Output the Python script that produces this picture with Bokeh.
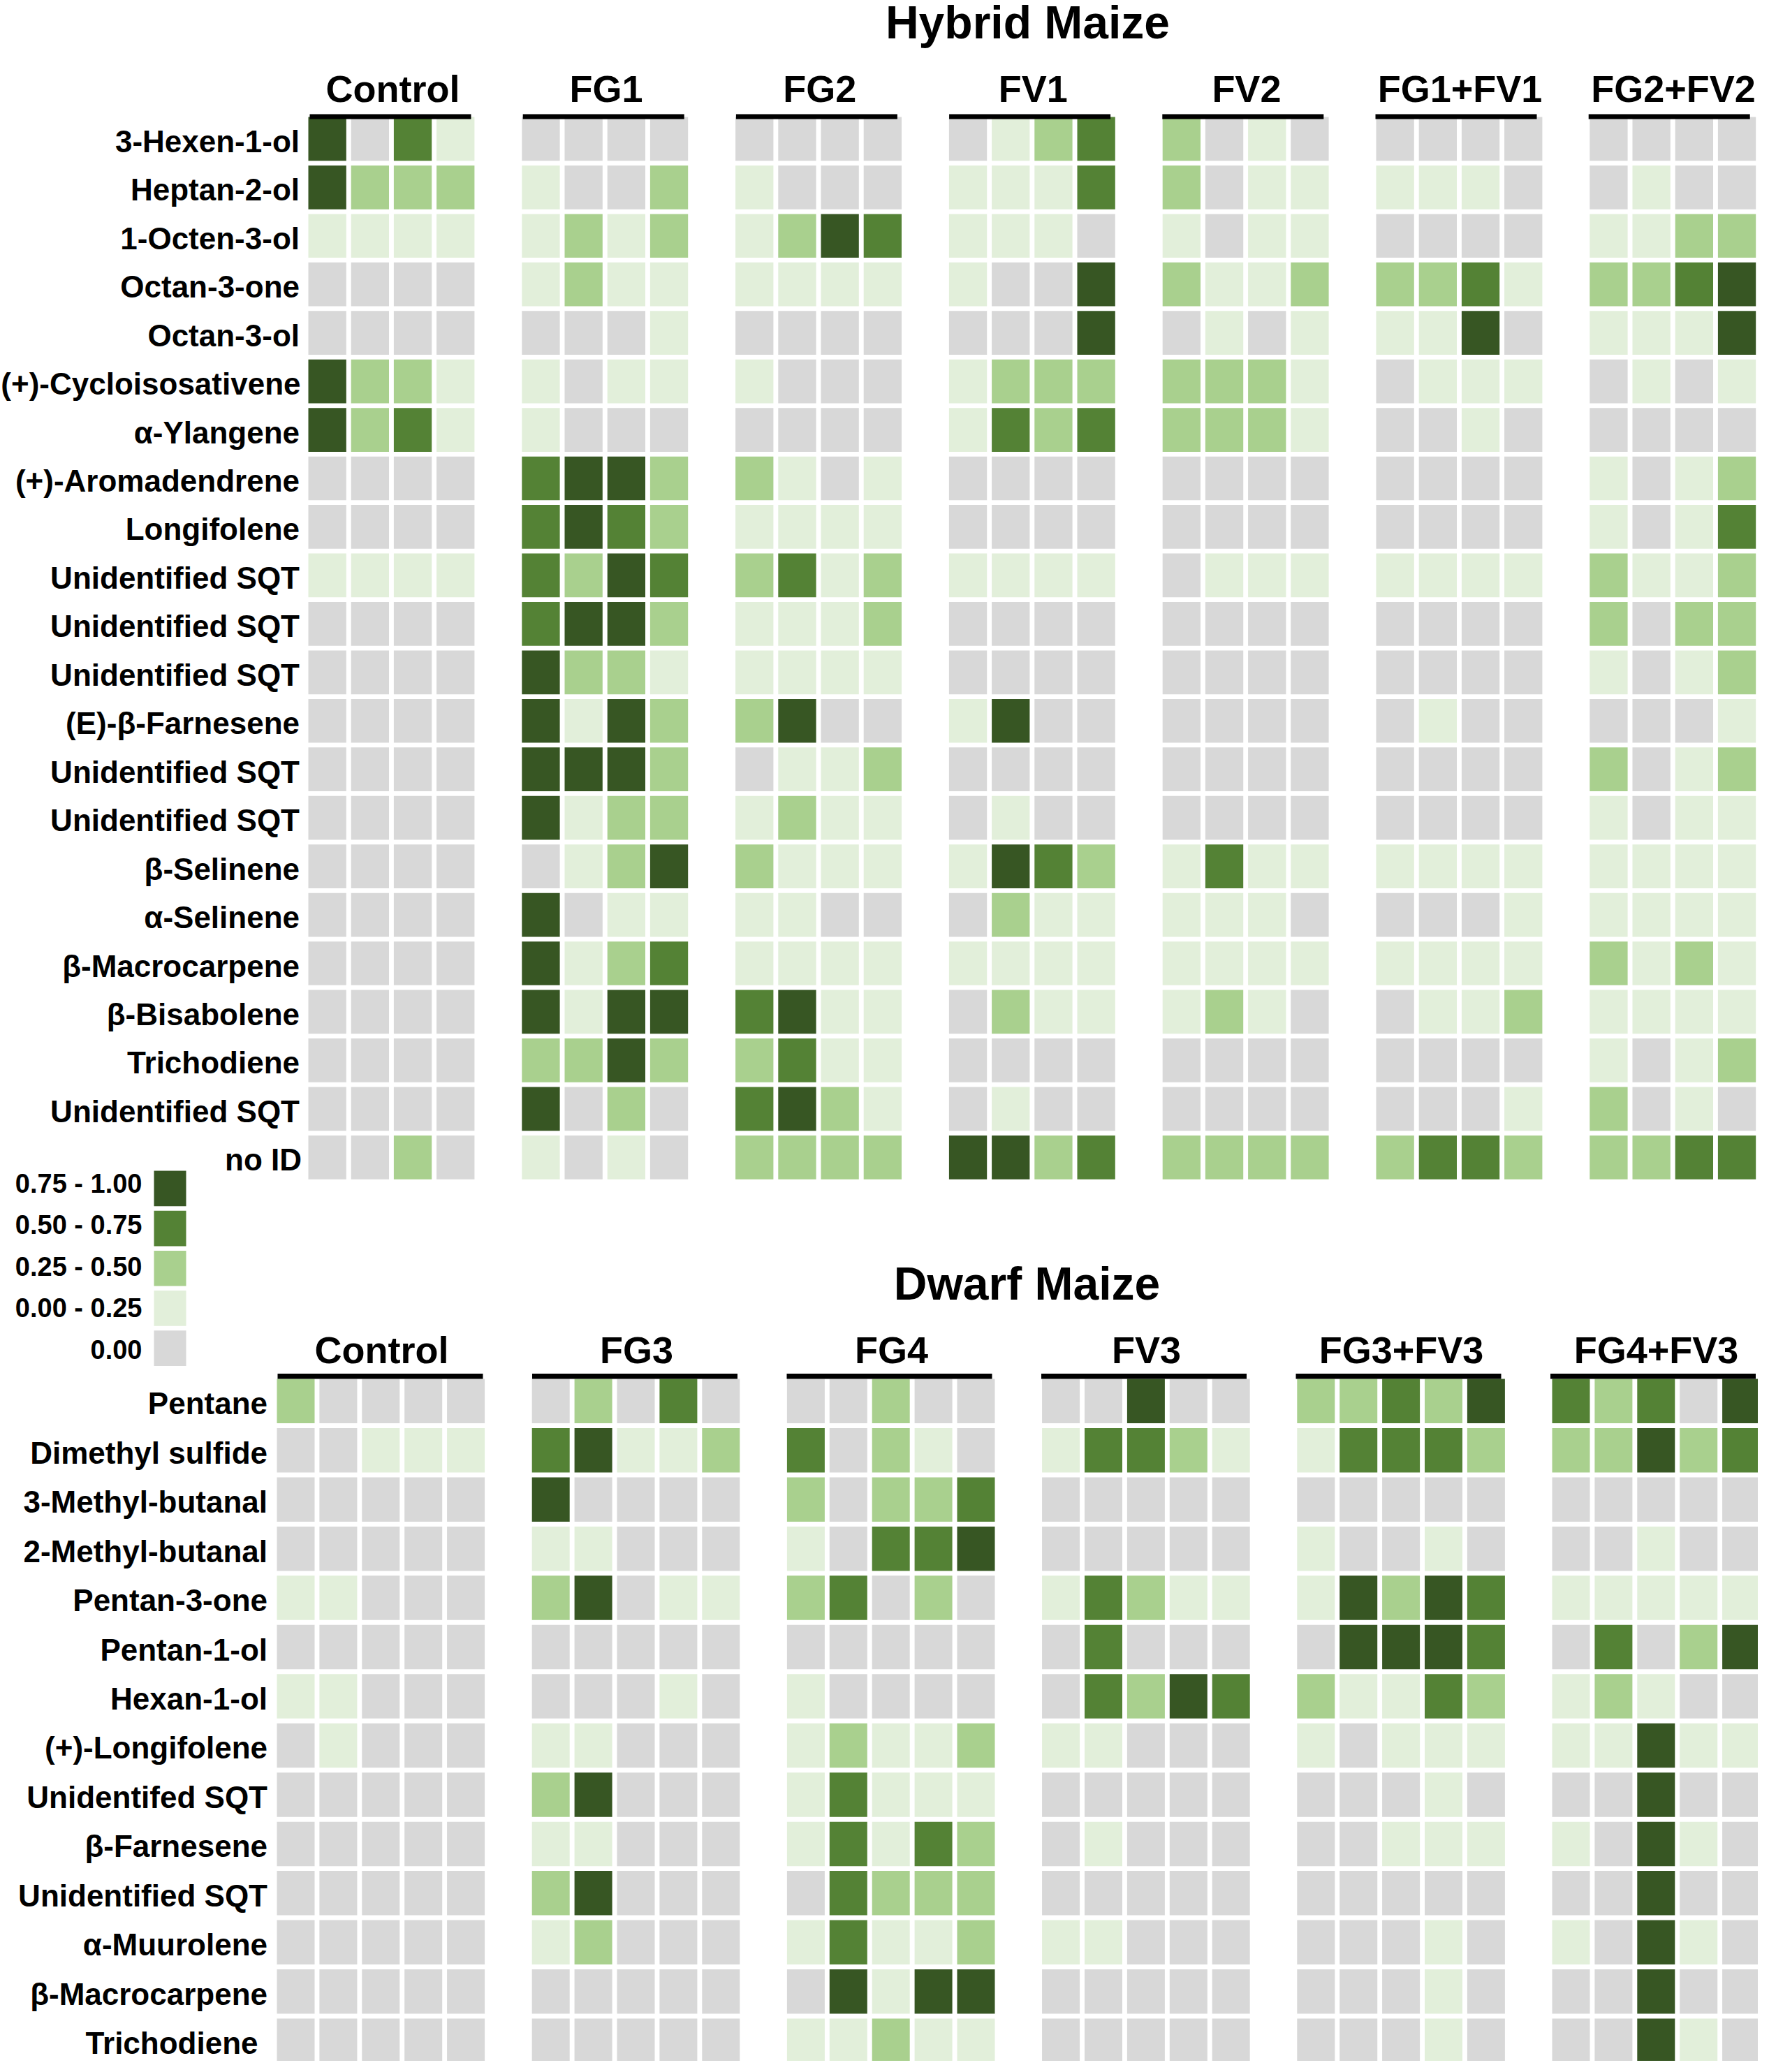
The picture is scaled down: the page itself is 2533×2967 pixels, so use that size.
from bokeh.core.properties import value
from bokeh.embed import file_html
from bokeh.models import ColumnDataSource, Range1d
from bokeh.plotting import figure
from bokeh.resources import INLINE

# Class of each cell: 0 = 0.00, 1 = 0.00-0.25, 2 = 0.25-0.50, 3 = 0.50-0.75, 4 = 0.75-1.00
hybrid_rows = [
    "3-Hexen-1-ol", "Heptan-2-ol", "1-Octen-3-ol", "Octan-3-one", "Octan-3-ol",
    "(+)-Cycloisosativene", "α-Ylangene", "(+)-Aromadendrene", "Longifolene",
    "Unidentified SQT", "Unidentified SQT", "Unidentified SQT", "(E)-β-Farnesene",
    "Unidentified SQT", "Unidentified SQT", "β-Selinene", "α-Selinene",
    "β-Macrocarpene", "β-Bisabolene", "Trichodiene", "Unidentified SQT", "no ID",
]
hybrid_groups = ["Control", "FG1", "FG2", "FV1", "FV2", "FG1+FV1", "FG2+FV2"]

hybrid_control = ["4031", "4222", "1111", "0000", "0000", "4221", "4231", "0000", "0000", "1111", "0000",
                  "0000", "0000", "0000", "0000", "0000", "0000", "0000", "0000", "0000", "0000", "0020"]
hybrid_fg1 = ["0000", "1002", "1212", "1211", "0001", "1011", "1000", "3442", "3432", "3243", "3442",
              "4221", "4142", "4442", "4122", "0124", "4011", "4123", "4144", "2242", "4020", "1010"]
hybrid_fg2 = ["0000", "1000", "1243", "1111", "0000", "1000", "0000", "2101", "1111", "2312", "1112",
              "1111", "2400", "0112", "1211", "2111", "1100", "1111", "3411", "2311", "3421", "2222"]
hybrid_fv1 = ["0123", "1113", "1110", "1004", "0004", "1222", "1323", "0000", "0000", "1111", "0000",
              "0000", "1400", "0000", "0100", "1432", "0211", "1111", "0211", "0000", "0100", "4423"]
hybrid_fv2 = ["2010", "2011", "1011", "2112", "0101", "2221", "2221", "0000", "0000", "0111", "0000",
              "0000", "0000", "0000", "0000", "1311", "1110", "1111", "1210", "0000", "0000", "2222"]
hybrid_fg1_fv1 = ["0000", "1110", "0000", "2231", "1140", "0111", "0010", "0000", "0000", "1111", "0000",
                  "0000", "0100", "0000", "0000", "1111", "0001", "1111", "0112", "0000", "0001", "2332"]
hybrid_fg2_fv2 = ["0000", "0100", "1122", "2234", "1114", "0101", "0000", "1012", "1013", "2112", "2022",
                  "1012", "0001", "2012", "1011", "1111", "1111", "2121", "1111", "1012", "2010", "2233"]
hybrid_values = [hybrid_control, hybrid_fg1, hybrid_fg2, hybrid_fv1, hybrid_fv2, hybrid_fg1_fv1, hybrid_fg2_fv2]

dwarf_rows = [
    "Pentane", "Dimethyl sulfide", "3-Methyl-butanal", "2-Methyl-butanal", "Pentan-3-one",
    "Pentan-1-ol", "Hexan-1-ol", "(+)-Longifolene", "Unidentifed SQT", "β-Farnesene",
    "Unidentified SQT", "α-Muurolene", "β-Macrocarpene", "Trichodiene",
]
dwarf_groups = ["Control", "FG3", "FG4", "FV3", "FG3+FV3", "FG4+FV3"]

dwarf_control = ["20000", "00111", "00000", "00000", "11000", "00000", "11000",
                 "01000", "00000", "00000", "00000", "00000", "00000", "00000"]
dwarf_fg3 = ["02030", "34112", "40000", "11000", "24011", "00000", "00010",
             "11000", "24000", "11000", "24000", "12000", "00000", "00000"]
dwarf_fg4 = ["00200", "30210", "20223", "10334", "23020", "00000", "10000",
             "12112", "13111", "13132", "03222", "13112", "04144", "11211"]
dwarf_fv3 = ["00400", "13321", "00000", "00000", "13211", "03000", "03243",
             "11000", "00000", "01000", "00000", "11000", "00000", "00000"]
dwarf_fg3_fv3 = ["22324", "13332", "00000", "10010", "14243", "04443", "21132",
                 "10111", "00010", "00111", "00000", "00010", "00010", "00010"]
dwarf_fg4_fv3 = ["32304", "22423", "00000", "00100", "11111", "03024", "12100",
                 "11411", "00400", "10410", "00400", "10410", "00400", "00410"]
dwarf_values = [dwarf_control, dwarf_fg3, dwarf_fg4, dwarf_fv3, dwarf_fg3_fv3, dwarf_fg4_fv3]

legend_labels = ["0.75 - 1.00", "0.50 - 0.75", "0.25 - 0.50", "0.00 - 0.25", "0.00"]
legend_classes = [4, 3, 2, 1, 0]

class_colors = ["#D8D8D8", "#E2EFDA", "#A9D08E", "#548235", "#375623"]

FONT = value("Liberation Sans")


def add_text(p, xs, ys, texts, size, align):
    p.text(xs, ys, text=texts, text_font=FONT, text_font_size=size, text_font_style="bold",
           text_color="black", text_align=align, text_baseline="alphabetic")


def add_panel(p, title, title_x, title_y, rows, groups, values, geo):
    """One heat map block: cells, row labels, group bars and group names."""
    xs, ys, colors = [], [], []
    for g, group_rows in enumerate(values):
        for r, row in enumerate(group_rows):
            for c, cls in enumerate(row):
                xs.append(geo["x0"] + g * geo["group_step"] + c * geo["cell_step"] + geo["w"] / 2)
                ys.append(geo["y0"] + r * geo["row_step"] + geo["h"] / 2)
                colors.append(class_colors[int(cls)])
    source = ColumnDataSource(data=dict(x=xs, y=ys, color=colors))
    p.rect("x", "y", width=geo["w"], height=geo["h"], source=source, fill_color="color", line_color=None)

    # group bars sit on top of the first row
    bar_left = [geo["bar_x0"] + g * geo["bar_step"] for g in range(len(groups))]
    bar_right = [x + geo["bar_w"] for x in bar_left]
    p.quad(left=bar_left, right=bar_right, top=[geo["bar_y"]] * len(groups),
           bottom=[geo["bar_y"] + geo["bar_h"]] * len(groups), fill_color="black", line_color=None)

    add_text(p, [geo["group_x0"] + g * geo["group_label_step"] for g in range(len(groups))],
             [geo["group_y"]] * len(groups), groups, "54px", "center")

    label_x = [geo["label_x"] + geo["label_shift"].get(name, 0) for name in rows]
    label_y = [geo["y0"] + r * geo["row_step"] + geo["h"] / 2 + geo["label_dy"] for r in range(len(rows))]
    add_text(p, label_x, label_y, rows, "44px", "right")
    add_text(p, [title_x], [title_y], [title], "66px", "center")


p = figure(width=2517, height=2951, output_backend="svg", toolbar_location=None, tools="",
           x_range=Range1d(0, 2517), y_range=Range1d(2951, 0), min_border=0)
p.axis.visible = False
p.grid.visible = False
p.outline_line_color = None

add_panel(p, "Hybrid Maize", 1471, 31, hybrid_rows, hybrid_groups, hybrid_values, dict(
    x0=441, group_step=305.8, cell_step=61.2, w=54.3, y0=167, row_step=69.45, h=62.7,
    bar_x0=443, bar_step=305.2, bar_w=231, bar_y=163, bar_h=7,
    group_x0=562, group_label_step=305.6, group_y=126.5,
    label_x=428.5, label_shift={"no ID": 3, "(+)-Cycloisosativene": 1.5}, label_dy=3.5))

add_panel(p, "Dwarf Maize", 1470, 1837, dwarf_rows, dwarf_groups, dwarf_values, dict(
    x0=396, group_step=365.2, cell_step=60.9, w=54, y0=1974, row_step=70.46, h=63.5,
    bar_x0=397, bar_step=364.5, bar_w=294, bar_y=1966.5, bar_h=7.5,
    group_x0=546, group_label_step=365, group_y=1932,
    label_x=382.5, label_shift={"Trichodiene": -13.5}, label_dy=3.5))

# legend
legend_y = [1676 + i * 57.2 + 25.35 for i in range(len(legend_labels))]
p.rect([243] * len(legend_labels), legend_y, width=46, height=50.7,
       fill_color=[class_colors[c] for c in legend_classes], line_color=None)
add_text(p, [203] * len(legend_labels), [1694.3 + i * 59.4 for i in range(len(legend_labels))],
         legend_labels, "38px", "right")

open("out.html", "w").write(file_html(p, INLINE))
